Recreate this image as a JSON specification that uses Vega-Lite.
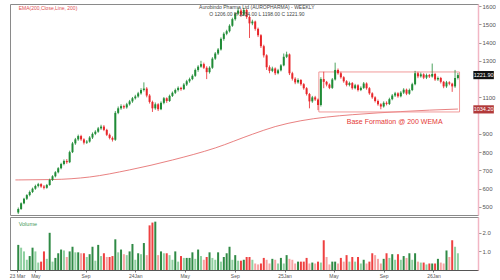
{
  "$schema": "https://vega.github.io/schema/vega-lite/v6.json",
  "background": "white",
  "padding": {"left": 8, "top": 2, "right": 0, "bottom": 0},
  "spacing": 0,
  "config": {
    "view": {"stroke": "#8a8a8a", "strokeWidth": 1},
    "font": "Liberation Sans",
    "axis": {"labelFontSize": 6, "labelColor": "#555555", "tickColor": "#999999", "labelPadding": 1, "grid": false, "domainColor": "#f2b6c4", "domainWidth": 1.5, "tickSize": 3}
  },
  "datasets": {
    "ohlc": [
      {"d":"2023-03-20","o":470,"h":497,"l":462,"c":489,"v":1.35},
      {"d":"2023-03-27","o":489,"h":525,"l":484,"c":520,"v":1.2},
      {"d":"2023-04-03","o":520,"h":550,"l":515,"c":545,"v":1.0},
      {"d":"2023-04-10","o":545,"h":570,"l":538,"c":565,"v":0.55},
      {"d":"2023-04-17","o":565,"h":590,"l":558,"c":582,"v":0.75},
      {"d":"2023-04-24","o":582,"h":606,"l":576,"c":600,"v":1.2},
      {"d":"2023-05-01","o":600,"h":622,"l":594,"c":615,"v":1.0},
      {"d":"2023-05-08","o":615,"h":632,"l":607,"c":625,"v":0.4},
      {"d":"2023-05-15","o":625,"h":630,"l":605,"c":612,"v":0.45},
      {"d":"2023-05-22","o":612,"h":620,"l":596,"c":605,"v":1.0},
      {"d":"2023-05-29","o":605,"h":626,"l":600,"c":620,"v":0.6},
      {"d":"2023-06-05","o":620,"h":655,"l":616,"c":648,"v":2.0},
      {"d":"2023-06-12","o":648,"h":674,"l":642,"c":668,"v":0.45},
      {"d":"2023-06-19","o":668,"h":696,"l":662,"c":690,"v":0.65},
      {"d":"2023-06-26","o":690,"h":718,"l":684,"c":712,"v":0.9},
      {"d":"2023-07-03","o":712,"h":742,"l":706,"c":735,"v":1.1},
      {"d":"2023-07-10","o":735,"h":760,"l":728,"c":752,"v":1.05},
      {"d":"2023-07-17","o":752,"h":762,"l":736,"c":745,"v":0.7},
      {"d":"2023-07-24","o":745,"h":808,"l":740,"c":800,"v":1.0},
      {"d":"2023-07-31","o":800,"h":856,"l":795,"c":848,"v":1.25},
      {"d":"2023-08-07","o":848,"h":878,"l":840,"c":870,"v":0.95},
      {"d":"2023-08-14","o":870,"h":896,"l":862,"c":888,"v":0.95},
      {"d":"2023-08-21","o":888,"h":895,"l":862,"c":870,"v":0.9},
      {"d":"2023-08-28","o":870,"h":876,"l":842,"c":852,"v":0.9},
      {"d":"2023-09-04","o":852,"h":866,"l":845,"c":858,"v":0.7},
      {"d":"2023-09-11","o":858,"h":888,"l":852,"c":880,"v":0.85},
      {"d":"2023-09-18","o":880,"h":908,"l":872,"c":900,"v":1.25},
      {"d":"2023-09-25","o":900,"h":920,"l":893,"c":912,"v":0.5},
      {"d":"2023-10-02","o":912,"h":938,"l":906,"c":930,"v":1.35},
      {"d":"2023-10-09","o":930,"h":950,"l":922,"c":940,"v":0.75},
      {"d":"2023-10-16","o":940,"h":948,"l":915,"c":922,"v":0.9},
      {"d":"2023-10-23","o":922,"h":928,"l":888,"c":895,"v":0.7},
      {"d":"2023-10-30","o":895,"h":902,"l":870,"c":878,"v":0.7},
      {"d":"2023-11-06","o":878,"h":886,"l":858,"c":868,"v":0.75},
      {"d":"2023-11-13","o":868,"h":1025,"l":862,"c":1015,"v":1.65},
      {"d":"2023-11-20","o":1015,"h":1050,"l":1008,"c":1040,"v":0.95},
      {"d":"2023-11-27","o":1040,"h":1062,"l":1032,"c":1052,"v":1.1},
      {"d":"2023-12-04","o":1052,"h":1060,"l":1036,"c":1045,"v":0.85},
      {"d":"2023-12-11","o":1045,"h":1070,"l":1038,"c":1062,"v":0.8},
      {"d":"2023-12-18","o":1062,"h":1086,"l":1055,"c":1078,"v":1.0},
      {"d":"2023-12-25","o":1078,"h":1102,"l":1070,"c":1095,"v":1.4},
      {"d":"2024-01-01","o":1095,"h":1114,"l":1088,"c":1105,"v":0.55},
      {"d":"2024-01-08","o":1105,"h":1130,"l":1098,"c":1122,"v":0.9},
      {"d":"2024-01-15","o":1122,"h":1150,"l":1115,"c":1140,"v":0.85},
      {"d":"2024-01-22","o":1140,"h":1182,"l":1132,"c":1148,"v":1.45},
      {"d":"2024-01-29","o":1148,"h":1156,"l":1100,"c":1110,"v":0.8},
      {"d":"2024-02-05","o":1110,"h":1118,"l":1066,"c":1075,"v":2.4},
      {"d":"2024-02-12","o":1075,"h":1082,"l":1020,"c":1040,"v":2.55},
      {"d":"2024-02-19","o":1040,"h":1072,"l":1032,"c":1062,"v":2.6},
      {"d":"2024-02-26","o":1062,"h":1068,"l":1025,"c":1035,"v":0.8},
      {"d":"2024-03-04","o":1035,"h":1078,"l":1030,"c":1070,"v":1.0},
      {"d":"2024-03-11","o":1070,"h":1102,"l":1062,"c":1095,"v":0.9},
      {"d":"2024-03-18","o":1095,"h":1100,"l":1070,"c":1080,"v":0.9},
      {"d":"2024-03-25","o":1080,"h":1115,"l":1075,"c":1108,"v":0.8},
      {"d":"2024-04-01","o":1108,"h":1132,"l":1102,"c":1125,"v":0.55},
      {"d":"2024-04-08","o":1125,"h":1148,"l":1118,"c":1140,"v":1.0},
      {"d":"2024-04-15","o":1140,"h":1160,"l":1132,"c":1152,"v":0.45},
      {"d":"2024-04-22","o":1152,"h":1158,"l":1136,"c":1145,"v":0.75},
      {"d":"2024-04-29","o":1145,"h":1178,"l":1140,"c":1170,"v":0.65},
      {"d":"2024-05-06","o":1170,"h":1196,"l":1162,"c":1188,"v":0.65},
      {"d":"2024-05-13","o":1188,"h":1208,"l":1180,"c":1200,"v":0.65},
      {"d":"2024-05-20","o":1200,"h":1226,"l":1194,"c":1218,"v":0.95},
      {"d":"2024-05-27","o":1218,"h":1258,"l":1212,"c":1250,"v":0.6},
      {"d":"2024-06-03","o":1250,"h":1276,"l":1240,"c":1268,"v":1.1},
      {"d":"2024-06-10","o":1268,"h":1300,"l":1262,"c":1282,"v":0.75},
      {"d":"2024-06-17","o":1282,"h":1290,"l":1255,"c":1262,"v":0.55},
      {"d":"2024-06-24","o":1262,"h":1270,"l":1200,"c":1238,"v":0.7},
      {"d":"2024-07-01","o":1238,"h":1270,"l":1230,"c":1262,"v":0.95},
      {"d":"2024-07-08","o":1262,"h":1320,"l":1256,"c":1312,"v":0.65},
      {"d":"2024-07-15","o":1312,"h":1348,"l":1305,"c":1340,"v":0.55},
      {"d":"2024-07-22","o":1340,"h":1370,"l":1332,"c":1362,"v":0.95},
      {"d":"2024-07-29","o":1362,"h":1428,"l":1356,"c":1420,"v":0.45},
      {"d":"2024-08-05","o":1420,"h":1456,"l":1410,"c":1448,"v":0.7},
      {"d":"2024-08-12","o":1448,"h":1470,"l":1440,"c":1462,"v":0.9},
      {"d":"2024-08-19","o":1462,"h":1500,"l":1455,"c":1492,"v":1.25},
      {"d":"2024-08-26","o":1492,"h":1536,"l":1486,"c":1528,"v":0.55},
      {"d":"2024-09-02","o":1528,"h":1566,"l":1520,"c":1558,"v":0.8},
      {"d":"2024-09-09","o":1558,"h":1592,"l":1550,"c":1575,"v":0.5},
      {"d":"2024-09-16","o":1575,"h":1585,"l":1540,"c":1552,"v":0.5},
      {"d":"2024-09-23","o":1552,"h":1590,"l":1545,"c":1578,"v":0.55},
      {"d":"2024-09-30","o":1578,"h":1584,"l":1530,"c":1540,"v":0.7},
      {"d":"2024-10-07","o":1540,"h":1548,"l":1425,"c":1505,"v":0.7},
      {"d":"2024-10-14","o":1505,"h":1525,"l":1495,"c":1515,"v":0.55},
      {"d":"2024-10-21","o":1515,"h":1520,"l":1465,"c":1475,"v":0.35},
      {"d":"2024-10-28","o":1475,"h":1482,"l":1430,"c":1440,"v":0.3},
      {"d":"2024-11-04","o":1440,"h":1446,"l":1370,"c":1380,"v":0.35},
      {"d":"2024-11-11","o":1380,"h":1388,"l":1318,"c":1330,"v":0.65},
      {"d":"2024-11-18","o":1330,"h":1336,"l":1250,"c":1265,"v":0.55},
      {"d":"2024-11-25","o":1265,"h":1275,"l":1232,"c":1245,"v":0.35},
      {"d":"2024-12-02","o":1245,"h":1268,"l":1238,"c":1258,"v":0.6},
      {"d":"2024-12-09","o":1258,"h":1264,"l":1222,"c":1232,"v":0.55},
      {"d":"2024-12-16","o":1232,"h":1256,"l":1226,"c":1248,"v":0.35},
      {"d":"2024-12-23","o":1248,"h":1282,"l":1242,"c":1275,"v":0.65},
      {"d":"2024-12-30","o":1275,"h":1340,"l":1270,"c":1322,"v":0.35},
      {"d":"2025-01-06","o":1322,"h":1350,"l":1315,"c":1335,"v":0.8},
      {"d":"2025-01-13","o":1335,"h":1340,"l":1222,"c":1232,"v":0.6},
      {"d":"2025-01-20","o":1232,"h":1240,"l":1192,"c":1202,"v":0.55},
      {"d":"2025-01-27","o":1202,"h":1210,"l":1172,"c":1182,"v":0.35},
      {"d":"2025-02-03","o":1182,"h":1204,"l":1175,"c":1195,"v":0.45},
      {"d":"2025-02-10","o":1195,"h":1200,"l":1164,"c":1172,"v":0.45},
      {"d":"2025-02-17","o":1172,"h":1178,"l":1142,"c":1150,"v":0.45},
      {"d":"2025-02-24","o":1150,"h":1156,"l":1110,"c":1118,"v":0.65},
      {"d":"2025-03-03","o":1118,"h":1124,"l":1040,"c":1078,"v":0.35},
      {"d":"2025-03-10","o":1078,"h":1108,"l":1070,"c":1100,"v":0.4},
      {"d":"2025-03-17","o":1100,"h":1108,"l":1080,"c":1088,"v":0.35},
      {"d":"2025-03-24","o":1088,"h":1094,"l":1030,"c":1058,"v":0.45},
      {"d":"2025-03-31","o":1058,"h":1210,"l":1050,"c":1200,"v":0.4},
      {"d":"2025-04-07","o":1200,"h":1240,"l":1150,"c":1185,"v":1.6},
      {"d":"2025-04-14","o":1185,"h":1190,"l":1160,"c":1170,"v":0.7},
      {"d":"2025-04-21","o":1170,"h":1176,"l":1145,"c":1152,"v":0.3},
      {"d":"2025-04-28","o":1152,"h":1206,"l":1146,"c":1198,"v":0.45},
      {"d":"2025-05-05","o":1198,"h":1290,"l":1192,"c":1250,"v":0.45},
      {"d":"2025-05-12","o":1250,"h":1258,"l":1224,"c":1232,"v":0.35},
      {"d":"2025-05-19","o":1232,"h":1240,"l":1202,"c":1210,"v":0.65},
      {"d":"2025-05-26","o":1210,"h":1216,"l":1180,"c":1188,"v":0.45},
      {"d":"2025-06-02","o":1188,"h":1194,"l":1160,"c":1168,"v":0.8},
      {"d":"2025-06-09","o":1168,"h":1186,"l":1160,"c":1178,"v":0.45},
      {"d":"2025-06-16","o":1178,"h":1184,"l":1142,"c":1150,"v":0.7},
      {"d":"2025-06-23","o":1150,"h":1174,"l":1144,"c":1166,"v":0.45},
      {"d":"2025-06-30","o":1166,"h":1172,"l":1132,"c":1140,"v":0.7},
      {"d":"2025-07-07","o":1140,"h":1160,"l":1134,"c":1152,"v":0.35},
      {"d":"2025-07-14","o":1152,"h":1184,"l":1146,"c":1176,"v":0.55},
      {"d":"2025-07-21","o":1176,"h":1182,"l":1142,"c":1150,"v":0.35},
      {"d":"2025-07-28","o":1150,"h":1156,"l":1114,"c":1122,"v":0.45},
      {"d":"2025-08-04","o":1122,"h":1128,"l":1092,"c":1100,"v":0.9},
      {"d":"2025-08-11","o":1100,"h":1106,"l":1072,"c":1080,"v":0.8},
      {"d":"2025-08-18","o":1080,"h":1088,"l":1054,"c":1062,"v":0.6},
      {"d":"2025-08-25","o":1062,"h":1068,"l":1035,"c":1050,"v":0.35},
      {"d":"2025-09-01","o":1050,"h":1078,"l":1044,"c":1070,"v":0.6},
      {"d":"2025-09-08","o":1070,"h":1078,"l":1056,"c":1064,"v":0.9},
      {"d":"2025-09-15","o":1064,"h":1098,"l":1058,"c":1090,"v":0.65},
      {"d":"2025-09-22","o":1090,"h":1118,"l":1084,"c":1110,"v":0.85},
      {"d":"2025-09-29","o":1110,"h":1130,"l":1102,"c":1122,"v":0.55},
      {"d":"2025-10-06","o":1122,"h":1128,"l":1098,"c":1106,"v":0.85},
      {"d":"2025-10-13","o":1106,"h":1134,"l":1100,"c":1126,"v":0.55},
      {"d":"2025-10-20","o":1126,"h":1150,"l":1118,"c":1142,"v":0.75},
      {"d":"2025-10-27","o":1142,"h":1148,"l":1112,"c":1120,"v":0.65},
      {"d":"2025-11-03","o":1120,"h":1148,"l":1114,"c":1140,"v":0.9},
      {"d":"2025-11-10","o":1140,"h":1180,"l":1134,"c":1172,"v":0.55},
      {"d":"2025-11-17","o":1172,"h":1245,"l":1166,"c":1232,"v":0.9},
      {"d":"2025-11-24","o":1232,"h":1240,"l":1205,"c":1215,"v":0.45},
      {"d":"2025-12-01","o":1215,"h":1236,"l":1208,"c":1226,"v":0.4},
      {"d":"2025-12-08","o":1226,"h":1232,"l":1200,"c":1208,"v":0.4},
      {"d":"2025-12-15","o":1208,"h":1230,"l":1200,"c":1222,"v":0.3},
      {"d":"2025-12-22","o":1222,"h":1228,"l":1206,"c":1214,"v":0.35},
      {"d":"2025-12-29","o":1214,"h":1285,"l":1208,"c":1228,"v":0.35},
      {"d":"2026-01-05","o":1228,"h":1234,"l":1190,"c":1198,"v":0.35},
      {"d":"2026-01-12","o":1198,"h":1214,"l":1190,"c":1206,"v":0.6},
      {"d":"2026-01-19","o":1206,"h":1212,"l":1176,"c":1185,"v":0.4},
      {"d":"2026-01-26","o":1185,"h":1190,"l":1150,"c":1160,"v":0.35},
      {"d":"2026-02-02","o":1160,"h":1190,"l":1152,"c":1182,"v":1.05},
      {"d":"2026-02-09","o":1182,"h":1188,"l":1166,"c":1175,"v":0.7},
      {"d":"2026-02-16","o":1175,"h":1180,"l":1130,"c":1160,"v":1.6},
      {"d":"2026-02-23","o":1160,"h":1250,"l":1152,"c":1206,"v":1.25},
      {"d":"2026-03-02","o":1206,"h":1234,"l":1198,"c":1221.9,"v":0.9}
    ],
    "ema": [
      {"d":"2023-03-13","e":648},
      {"d":"2023-03-20","e":648},
      {"d":"2023-06-12","e":650},
      {"d":"2023-09-11","e":664},
      {"d":"2023-12-18","e":703},
      {"d":"2024-04-01","e":757},
      {"d":"2024-07-15","e":823},
      {"d":"2024-10-14","e":898},
      {"d":"2024-12-09","e":940},
      {"d":"2025-02-10","e":972},
      {"d":"2025-04-14","e":992},
      {"d":"2025-06-16","e":1005},
      {"d":"2025-08-18","e":1015},
      {"d":"2025-10-13","e":1022},
      {"d":"2025-12-22","e":1030},
      {"d":"2026-03-02","e":1036}
    ]
  },
  "vconcat": [
    {
      "width": 468,
      "height": 211,
      "layer": [
        {
          "data": {"name": "ema"},
          "mark": {"type": "line", "color": "#e57373", "strokeWidth": 0.9, "interpolate": "monotone"},
          "encoding": {
            "x": {"field": "d", "type": "temporal", "scale": {"type": "utc", "domain": [{"year": 2023, "month": 3, "date": 12, "utc": true}, {"year": 2026, "month": 4, "date": 8, "utc": true}]}, "axis": null},
            "y": {"field": "e", "type": "quantitative", "scale": {"domain": [456, 1611], "nice": false, "zero": false},
              "axis": {"orient": "right", "title": null, "format": "d", "values": [500, 600, 700, 800, 900, 1100, 1300, 1400, 1500, 1600]}}
          }
        },
        {
          "data": {"values": [{"x1": "2025-03-26", "x2": "2026-03-06", "lo": 1020, "hi": 1239}]},
          "mark": {"type": "rect", "fill": null, "fillOpacity": 0, "stroke": "#ef8f8f", "strokeWidth": 0.9},
          "encoding": {
            "x": {"field": "x1", "type": "temporal", "axis": null},
            "x2": {"field": "x2"},
            "y": {"field": "lo", "type": "quantitative", "axis": {"orient": "right", "title": null, "format": "d", "values": [500, 600, 700, 800, 900, 1100, 1300, 1400, 1500, 1600]}},
            "y2": {"field": "hi"}
          }
        },
        {
          "data": {"name": "ohlc"},
          "mark": {"type": "rule", "strokeWidth": 0.8},
          "encoding": {
            "x": {"field": "d", "type": "temporal", "axis": null},
            "y": {"field": "l", "type": "quantitative", "axis": {"orient": "right", "title": null, "format": "d", "values": [500, 600, 700, 800, 900, 1100, 1300, 1400, 1500, 1600]}},
            "y2": {"field": "h"},
            "color": {"condition": {"test": "datum.c >= datum.o", "value": "#1f8b36"}, "value": "#e8262a"}
          }
        },
        {
          "data": {"name": "ohlc"},
          "mark": {"type": "bar", "size": 2},
          "encoding": {
            "x": {"field": "d", "type": "temporal", "axis": null},
            "y": {"field": "o", "type": "quantitative", "axis": {"orient": "right", "title": null, "format": "d", "values": [500, 600, 700, 800, 900, 1100, 1300, 1400, 1500, 1600]}},
            "y2": {"field": "c"},
            "color": {"condition": {"test": "datum.c >= datum.o", "value": "#1f8b36"}, "value": "#e8262a"}
          }
        },
        {
          "data": {"values": [{"d": "2025-09-28", "p": 965, "t": "Base Formation @ 200 WEMA"}]},
          "mark": {"type": "text", "color": "#e53935", "fontSize": 7, "align": "center", "baseline": "middle"},
          "encoding": {
            "x": {"field": "d", "type": "temporal", "axis": null},
            "y": {"field": "p", "type": "quantitative", "axis": {"orient": "right", "title": null, "format": "d", "values": [500, 600, 700, 800, 900, 1100, 1300, 1400, 1500, 1600]}},
            "text": {"field": "t"}
          }
        },
        {
          "data": {"values": [
            {"d": "2024-10-25", "p": 1597, "t": "Aurobindo Pharma Ltd (AUROPHARMA) - WEEKLY"},
            {"d": "2024-10-25", "p": 1557, "t": "O 1206.00  H 1234.00  L 1198.00  C 1221.90"}
          ]},
          "mark": {"type": "text", "color": "#444444", "fontSize": 5, "align": "center", "baseline": "middle"},
          "encoding": {
            "x": {"field": "d", "type": "temporal", "axis": null},
            "y": {"field": "p", "type": "quantitative", "axis": {"orient": "right", "title": null, "format": "d", "values": [500, 600, 700, 800, 900, 1100, 1300, 1400, 1500, 1600]}},
            "text": {"field": "t"}
          }
        },
        {
          "data": {"values": [{"d": "2023-03-21", "p": 1590, "t": "EMA(200,Close,Line, 200)"}]},
          "mark": {"type": "text", "color": "#e05050", "fontSize": 5, "align": "left", "baseline": "middle"},
          "encoding": {
            "x": {"field": "d", "type": "temporal", "axis": null},
            "y": {"field": "p", "type": "quantitative", "axis": {"orient": "right", "title": null, "format": "d", "values": [500, 600, 700, 800, 900, 1100, 1300, 1400, 1500, 1600]}},
            "text": {"field": "t"}
          }
        },
        {
          "data": {"values": [
            {"d": "2026-05-04", "p": 1221.9, "k": "close"},
            {"d": "2026-05-04", "p": 1034.2, "k": "ema"}
          ]},
          "mark": {"type": "point", "shape": "M -1 -0.4 L 1 -0.4 L 1 0.4 L -1 0.4 Z", "size": 420, "filled": true, "opacity": 1},
          "encoding": {
            "x": {"field": "d", "type": "temporal", "axis": null},
            "y": {"field": "p", "type": "quantitative", "axis": {"orient": "right", "title": null, "format": "d", "values": [500, 600, 700, 800, 900, 1100, 1300, 1400, 1500, 1600]}},
            "color": {"condition": {"test": "datum.k == 'close'", "value": "#111111"}, "value": "#b23a3a"}
          }
        },
        {
          "data": {"values": [
            {"d": "2026-05-04", "p": 1221.9, "t": "1221.90"},
            {"d": "2026-05-04", "p": 1034.2, "t": "1034.20"}
          ]},
          "mark": {"type": "text", "color": "#ffffff", "fontSize": 5.5, "align": "center", "baseline": "middle"},
          "encoding": {
            "x": {"field": "d", "type": "temporal", "axis": null},
            "y": {"field": "p", "type": "quantitative", "axis": {"orient": "right", "title": null, "format": "d", "values": [500, 600, 700, 800, 900, 1100, 1300, 1400, 1500, 1600]}},
            "text": {"field": "t"}
          }
        }
      ]
    },
    {
      "width": 468,
      "height": 53,
      "layer": [
        {
          "data": {"name": "ohlc"},
          "transform": [
            {"window": [{"op": "lag", "field": "v", "as": "pv"}], "sort": [{"field": "d"}]},
            {"calculate": "(datum.c >= datum.o ? 'up' : 'dn') + (datum.pv == null || datum.v >= datum.pv ? '1' : '0')", "as": "vk"}
          ],
          "mark": {"type": "bar", "size": 2},
          "encoding": {
            "x": {"field": "d", "type": "temporal",
              "scale": {"type": "utc", "domain": [{"year": 2023, "month": 3, "date": 12, "utc": true}, {"year": 2026, "month": 4, "date": 8, "utc": true}]},
              "axis": {"title": null, "values": [
                {"year": 2023, "month": 3, "date": 17, "utc": true},
                {"year": 2023, "month": 5, "date": 1, "utc": true},
                {"year": 2023, "month": 9, "date": 1, "utc": true},
                {"year": 2024, "month": 1, "date": 1, "utc": true},
                {"year": 2024, "month": 5, "date": 1, "utc": true},
                {"year": 2024, "month": 9, "date": 1, "utc": true},
                {"year": 2025, "month": 1, "date": 1, "utc": true},
                {"year": 2025, "month": 5, "date": 1, "utc": true},
                {"year": 2025, "month": 9, "date": 1, "utc": true},
                {"year": 2026, "month": 1, "date": 1, "utc": true}],
                "labelExpr": "utcmonth(datum.value) == 0 ? utcFormat(datum.value, '%yJan') : (utcmonth(datum.value) == 2 ? utcFormat(datum.value, '%y Mar') : utcFormat(datum.value, '%b'))",
                "labelFontSize": 5, "labelFlush": 5, "tickSize": 2, "tickColor": "#777777", "domainColor": "#555555", "domainWidth": 1}},
            "y": {"field": "v", "type": "quantitative", "scale": {"domain": [0, 2.85], "nice": false},
              "axis": {"orient": "right", "title": null, "values": [1, 2], "format": ".1f"}},
            "color": {"field": "vk", "type": "nominal", "legend": null,
              "scale": {"domain": ["up1", "up0", "dn1", "dn0"], "range": ["#2f8a45", "#8fd0a0", "#ee4040", "#f6a3a3"]}}
          }
        },
        {
          "data": {"values": [{"d": "2023-03-21", "v": 2.45, "t": "Volume"}]},
          "mark": {"type": "text", "color": "#3f9a5a", "fontSize": 5.5, "align": "left", "baseline": "middle"},
          "encoding": {
            "x": {"field": "d", "type": "temporal", "axis": {"title": null, "values": [
                {"year": 2023, "month": 3, "date": 17, "utc": true},
                {"year": 2023, "month": 5, "date": 1, "utc": true},
                {"year": 2023, "month": 9, "date": 1, "utc": true},
                {"year": 2024, "month": 1, "date": 1, "utc": true},
                {"year": 2024, "month": 5, "date": 1, "utc": true},
                {"year": 2024, "month": 9, "date": 1, "utc": true},
                {"year": 2025, "month": 1, "date": 1, "utc": true},
                {"year": 2025, "month": 5, "date": 1, "utc": true},
                {"year": 2025, "month": 9, "date": 1, "utc": true},
                {"year": 2026, "month": 1, "date": 1, "utc": true}],
                "labelExpr": "utcmonth(datum.value) == 0 ? utcFormat(datum.value, '%yJan') : (utcmonth(datum.value) == 2 ? utcFormat(datum.value, '%y Mar') : utcFormat(datum.value, '%b'))",
                "labelFontSize": 5, "labelFlush": 5, "tickSize": 2, "tickColor": "#777777", "domainColor": "#555555", "domainWidth": 1}},
            "y": {"field": "v", "type": "quantitative", "axis": {"orient": "right", "title": null, "values": [1, 2], "format": ".1f"}},
            "text": {"field": "t"}
          }
        }
      ]
    }
  ]
}
